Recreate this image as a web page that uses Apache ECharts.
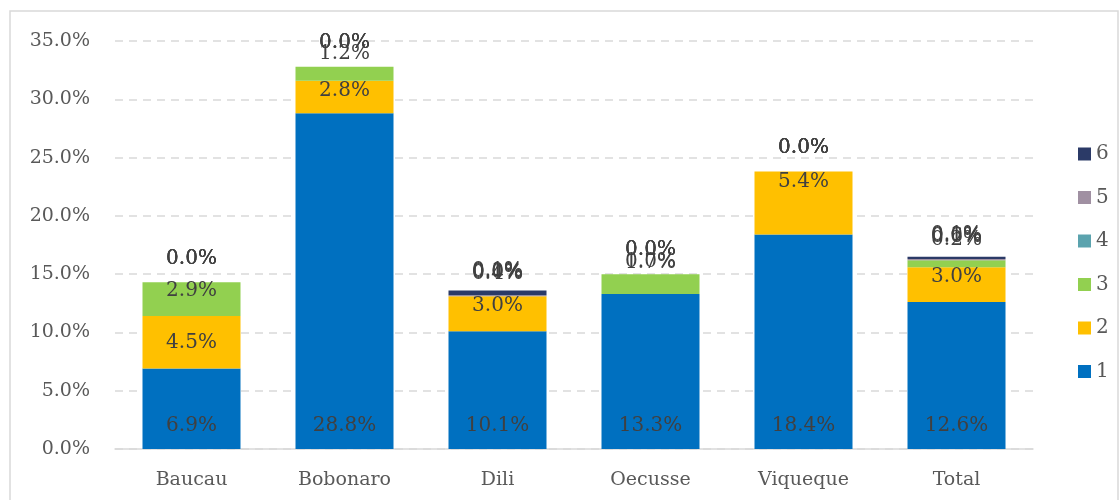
<!DOCTYPE html>
<html>
<head>
<meta charset="utf-8">
<script src="https://cdn.jsdelivr.net/npm/echarts@6/dist/echarts.min.js"></script>
<style>html,body{margin:0;padding:0;background:#fff}#c{width:1119px;height:500px}</style>
</head>
<body>
<div id="c"></div>
<script>
var categories = ['Baucau', 'Bobonaro', 'Dili', 'Oecusse', 'Viqueque', 'Total'];
var seriesNames = ['1', '2', '3', '4', '5', '6'];
var s1 = [6.9, 28.8, 10.1, 13.3, 18.4, 12.6];
var s2 = [4.5, 2.8, 3.0, 0.0, 5.4, 3.0];
var s3 = [2.9, 1.2, 0.0, 1.7, 0.0, 0.6];
var s4 = [0.0, 0.0, 0.0, 0.0, 0.0, 0.0];
var s5 = [0.0, 0.0, 0.1, 0.0, 0.0, 0.1];
var s6 = [0.0, 0.0, 0.4, 0.0, 0.0, 0.2];
var yTicks = [0, 5, 10, 15, 20, 25, 30, 35];

var colors = ['#0070C0', '#FFC000', '#92D050', '#5BA3AE', '#A090A2', '#2B3A67'];
var values = [s1, s2, s3, s4, s5, s6];
var FONT = 'DejaVu Serif';

// label placement rules (style config, kept apart from the data)
function labelFor(si, ci, v) {
  if (si === 0) return { position: 'insideBottom', distance: 13 };
  if (si === 1) {
    if (v === 0) return { position: 'top', distance: 22 };
    if (ci === 0) return { position: 'inside' };
    return { position: 'insideTop', distance: 0 };
  }
  if (si === 2) {
    if (ci === 0) return { position: 'insideTop', distance: -2 };
    if (ci === 1) return { position: 'top', distance: 3 };
    if (ci === 3) return { position: 'top', distance: 1 };
    if (v === 0 && (ci === 4)) return { position: 'top', distance: 14 };
    return { position: 'top', distance: 13 };
  }
  if (si === 5 && v > 0) return { position: 'top', distance: 7 };
  return { position: 'top', distance: 14 };
}

var series = values.map(function (arr, si) {
  return {
    name: seriesNames[si],
    type: 'bar',
    stack: 'a',
    barWidth: 98,
    itemStyle: { color: colors[si] },
    data: arr.map(function (v, ci) {
      return { value: v, label: labelFor(si, ci, v) };
    }),
    label: {
      show: true,
      color: '#404040',
      fontFamily: FONT,
      fontSize: 20,
      formatter: function (p) { return p.value.toFixed(1) + '%'; }
    },
    labelLayout: { hideOverlap: false }
  };
});

var chart = echarts.init(document.getElementById('c'), null, { renderer: 'canvas' });
chart.setOption({
  animation: false,
  backgroundColor: '#fff',
  graphic: [{
    type: 'rect',
    shape: { x: 10, y: 11, width: 1108, height: 500 },
    style: { fill: 'none', stroke: '#D9D9D9', lineWidth: 1.5 },
    silent: true
  }],
  grid: { left: 115, right: 86, top: 41, bottom: 51 },
  legend: {
    orient: 'vertical',
    left: 1073,
    top: 139,
    itemWidth: 13,
    itemHeight: 13,
    itemGap: 23.5,
    icon: 'rect',
    data: seriesNames.slice().reverse(),
    textStyle: { fontFamily: FONT, fontSize: 20, color: '#595959' }
  },
  xAxis: {
    type: 'category',
    data: categories,
    axisTick: { show: false },
    axisLine: { lineStyle: { color: '#D9D9D9', width: 1.5 } },
    axisLabel: { color: '#595959', fontFamily: FONT, fontSize: 19, margin: 22 }
  },
  yAxis: {
    type: 'value',
    min: yTicks[0],
    max: yTicks[yTicks.length - 1],
    interval: yTicks[1] - yTicks[0],
    axisLine: { show: false },
    axisTick: { show: false },
    axisLabel: {
      color: '#595959', fontFamily: FONT, fontSize: 19, margin: 25,
      formatter: function (v) { return v.toFixed(1) + '%'; }
    },
    splitLine: { lineStyle: { color: '#D9D9D9', type: [8, 6], width: 1.5 } }
  },
  series: series
});
</script>
</body>
</html>
